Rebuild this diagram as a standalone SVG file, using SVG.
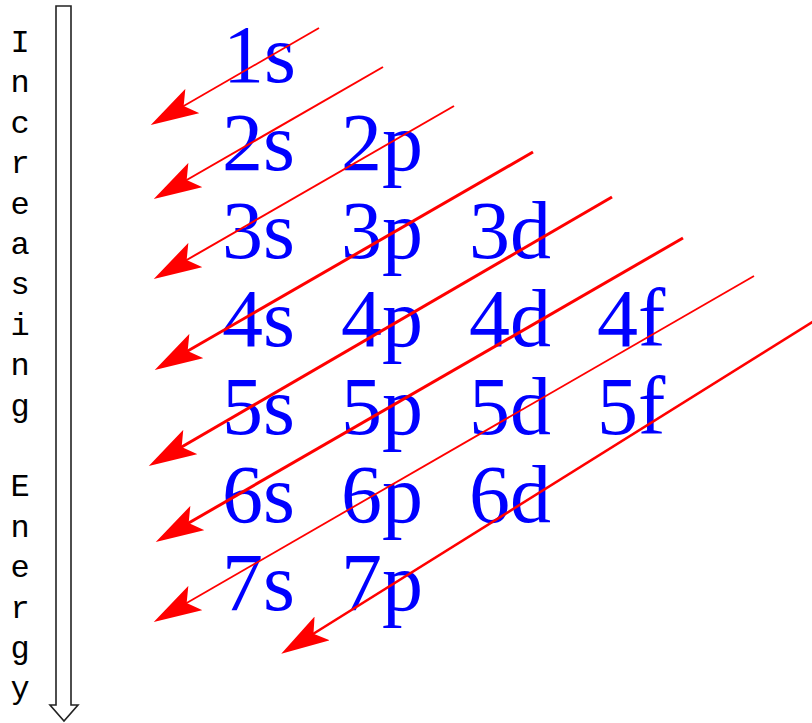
<svg xmlns="http://www.w3.org/2000/svg" width="812" height="723" viewBox="0 0 812 723">
<style>
.orb{font-family:"Liberation Serif","Times New Roman",serif;font-size:82px;fill:#0000FF}
.lbl{font-family:"Liberation Mono","Courier New",monospace;font-size:32px;fill:#000;text-anchor:middle}
.ar{stroke:#FF0000;fill:none;marker-end:url(#head)}
</style>
<defs>
<marker id="head" markerUnits="userSpaceOnUse" markerWidth="48" markerHeight="28" viewBox="0 0 48 28" refX="20" refY="14" orient="auto">
<path d="M48,14 L0,0 L10,14 L0,28 Z" fill="#FF0000"/>
</marker>
</defs>
<rect width="812" height="723" fill="#FFFFFF"/>
<g id="energy-axis">
<polygon points="56,6 71,6 71,705 78,705 64,721 50,705 56,705" fill="#FFFFFF" stroke="#222" stroke-width="1.6"/>
<text class="lbl" x="20" y="52">I</text>
<text class="lbl" x="20" y="92.4">n</text>
<text class="lbl" x="20" y="132.8">c</text>
<text class="lbl" x="20" y="173.2">r</text>
<text class="lbl" x="20" y="213.6">e</text>
<text class="lbl" x="20" y="254">a</text>
<text class="lbl" x="20" y="294.4">s</text>
<text class="lbl" x="20" y="334.8">i</text>
<text class="lbl" x="20" y="375.2">n</text>
<text class="lbl" x="20" y="415.6">g</text>
<text class="lbl" x="20" y="496.4">E</text>
<text class="lbl" x="20" y="536.8">n</text>
<text class="lbl" x="20" y="577.2">e</text>
<text class="lbl" x="20" y="617.6">r</text>
<text class="lbl" x="20" y="658">g</text>
<text class="lbl" x="20" y="698.4">y</text>
</g>
<g id="orbitals">
<text id="o1s" class="orb" x="223" y="82">1s</text>
<text id="o2s" class="orb" x="222" y="170">2s</text>
<text id="o2p" class="orb" x="341" y="170">2p</text>
<text id="o3s" class="orb" x="222" y="258">3s</text>
<text id="o3p" class="orb" x="341" y="258">3p</text>
<text id="o3d" class="orb" x="469" y="258">3d</text>
<text id="o4s" class="orb" x="222" y="346">4s</text>
<text id="o4p" class="orb" x="341" y="346">4p</text>
<text id="o4d" class="orb" x="469" y="346">4d</text>
<text id="o4f" class="orb" x="597" y="346">4f</text>
<text id="o5s" class="orb" x="222" y="434">5s</text>
<text id="o5p" class="orb" x="341" y="434">5p</text>
<text id="o5d" class="orb" x="469" y="434">5d</text>
<text id="o5f" class="orb" x="597" y="434">5f</text>
<text id="o6s" class="orb" x="222" y="522">6s</text>
<text id="o6p" class="orb" x="341" y="522">6p</text>
<text id="o6d" class="orb" x="469" y="522">6d</text>
<text id="o7s" class="orb" x="222" y="610">7s</text>
<text id="o7p" class="orb" x="341" y="610">7p</text>
</g>
<g id="connectors">
<line class="ar" stroke-width="1.8" x1="319" y1="28" x2="175" y2="111"/>
<line class="ar" stroke-width="2" x1="383" y1="67" x2="178" y2="185"/>
<line class="ar" stroke-width="2" x1="454" y1="106" x2="178" y2="265"/>
<line class="ar" stroke-width="3" x1="533" y1="152" x2="179" y2="356"/>
<line class="ar" stroke-width="3" x1="612" y1="197" x2="173" y2="452"/>
<line class="ar" stroke-width="3" x1="683" y1="238" x2="180" y2="528"/>
<line class="ar" stroke-width="1.8" x1="754" y1="276" x2="178" y2="608"/>
<line class="ar" stroke-width="2.5" x1="822" y1="316" x2="305" y2="639"/>
</g>
</svg>
